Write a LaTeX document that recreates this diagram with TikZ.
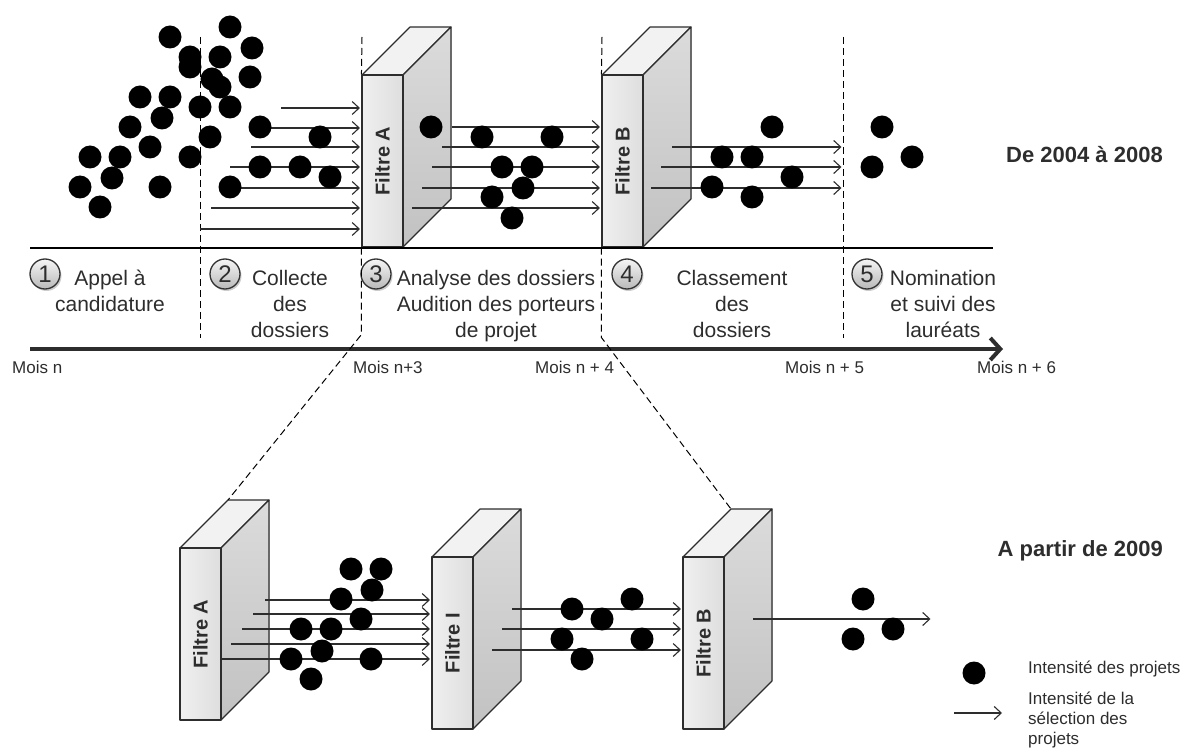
\documentclass[tikz,border=0pt]{standalone}
\usepackage{fontspec}
\setmainfont{Liberation Sans}
\usetikzlibrary{arrows.meta,shadows}
\definecolor{trait}{RGB}{45,45,45}

% boite 3D : #1 nom, #2 x, #3 y (coin haut gauche de la face), #4 texte
\newcommand{\filtre}[4]{%
  \filldraw[boite, fill=gray!10] (#2,#3) -- ++(48,-48) -- ++(41,0) -- ++(-48,48) -- cycle;
  \filldraw[boite, top color=gray!28, bottom color=gray!48] (#2+41,#3) -- ++(48,-48) -- ++(0,172) -- ++(-48,48) -- cycle;
  \node[face] (#1) at (#2+20.5,#3+86) {};
  \node[rotate=90, font=\fontsize{20}{20}\selectfont\bfseries, text=trait] at (#1) {#4};
  \coordinate (#1-coin) at (#2+48,#3-48);
}

\begin{document}
\begin{tikzpicture}[x=1pt, y=-1pt,
    boite/.style={draw=trait, line width=1.1pt, line join=round},
    face/.style={boite, minimum width=41pt, minimum height=172pt, inner sep=0pt, left color=gray!12, right color=gray!26},
    projet/.style={circle, fill=black, minimum size=23pt, inner sep=0pt},
    fleche/.style={draw=trait, line width=1.1pt, -{Straight Barb[length=7pt, width=13pt]}, shorten >=1.5pt},
    tirets/.style={draw=black, line width=1pt, dash pattern=on 7pt off 4pt},
    numero/.style={circle, draw=black!80, line width=1.3pt, minimum size=30pt, inner sep=0pt, top color=gray!8, bottom color=gray!55, drop shadow={opacity=0.4, shadow xshift=1.5pt, shadow yshift=-2pt}, font=\fontsize{24}{24}\selectfont, text=trait},
    etape/.style={align=center, anchor=north, inner sep=0pt, font=\fontsize{21}{26}\selectfont, text=trait},
    mois/.style={anchor=base west, inner sep=0pt, font=\fontsize{17}{17}\selectfont, text=trait},
    titre/.style={anchor=base east, inner sep=0pt, font=\fontsize{22}{22}\selectfont\bfseries, text=trait}]
  \useasboundingbox (0,0) rectangle (1186,751);

  % --- De 2004 a 2008 ---
  \filtre{fA}{362}{75}{Filtre A}
  \filtre{fB}{602}{75}{Filtre B}

  \draw[black, line width=1.2pt] (30,248) -- (993,248);
  \draw[tirets] (200,37) -- (200,338);
  \draw[tirets] (843,37) -- (843,338);
  \draw[tirets] (362,37) -- (fA.north west);
  \draw[tirets] (602,37) -- (fB.north west);

  \foreach \x/\y in {281/108, 262/128, 251/147, 230/167, 240/188, 211/208, 200/229}
    \draw[fleche] (\x,\y) -- (\x,\y -| fA.west);
  \foreach \x/\y in {452/127, 442/147, 432/167, 422/188, 412/208}
    \draw[fleche] (\x,\y) -- (\x,\y -| fB.west);
  \foreach \x/\y in {672/147, 661/167, 651/188}
    \draw[fleche] (\x,\y) -- (843,\y);

  \foreach \x/\y [count=\i] in {170/37, 230/27, 252/48, 190/57, 190/67, 220/57, 212/79, 220/87, 250/77, 140/97,
      170/97, 200/107, 230/107, 162/118, 130/127, 260/127, 210/137, 320/137, 150/147, 90/157, 120/157,
      190/157, 260/167, 300/167, 330/177, 112/178, 80/187, 160/187, 230/187, 100/207}
    \node[projet] (pa\i) at (\x,\y) {};
  \foreach \x/\y [count=\i] in {431/127, 482/137, 552/137, 502/167, 532/167, 523/188, 492/197, 512/218}
    \node[projet] (pb\i) at (\x,\y) {};
  \foreach \x/\y [count=\i] in {772/127, 722/157, 752/157, 792/177, 712/187, 752/197}
    \node[projet] (pc\i) at (\x,\y) {};
  \foreach \x/\y [count=\i] in {882/127, 872/167, 912/157}
    \node[projet] (pd\i) at (\x,\y) {};

  \node[titre] (t1) at (1163,163) {De 2004 à 2008};

  % --- etapes ---
  \foreach \x/\n in {45/1, 225/2, 376/3, 627/4, 867/5}
    \node[numero] (c\n) at (\x,274) {\n};
  \node[etape] (e1) at (110,270) {Appel à\\candidature};
  \node[etape] (e2) at (290,270) {Collecte\\des\\dossiers};
  \node[etape] (e3) at (496,270) {Analyse des dossiers\\Audition des porteurs\\de projet};
  \node[etape] (e4) at (732,270) {Classement\\des\\dossiers};
  \node[etape] (e5) at (943,270) {Nomination\\et suivi des\\lauréats};

  \draw[trait, line width=4pt, -{Straight Barb[length=10pt, width=22pt]}] (30,349) -- (1003,349);
  \node[mois] (m0) at (12,373) {Mois n};
  \node[mois] (m3) at (353,373) {Mois n+3};
  \node[mois] (m4) at (535,373) {Mois n + 4};
  \node[mois] (m5) at (785,373) {Mois n + 5};
  \node[mois] (m6) at (977,373) {Mois n + 6};

  % --- A partir de 2009 ---
  \filtre{bA}{180}{548}{Filtre A}
  \filtre{bI}{432}{557}{Filtre I}
  \filtre{bB}{683}{557}{Filtre B}

  \draw[tirets] (fA.south west) -- ++(0,87) -- (bA-coin);
  \draw[tirets] (fB.south west) -- ++(0,90) -- (bB-coin);

  \foreach \x/\y in {265/600, 253/614, 242/629, 231/644, 220/659}
    \draw[fleche] (\x,\y) -- (\x,\y -| bI.west);
  \foreach \x/\y in {512/609, 502/629, 492/650}
    \draw[fleche] (\x,\y) -- (\x,\y -| bB.west);
  \draw[fleche] (753,619) -- (932,619);

  \foreach \x/\y [count=\i] in {351/569, 381/569, 372/590, 341/599, 361/619, 301/629, 331/629, 322/651, 291/659, 371/659, 311/679}
    \node[projet] (qa\i) at (\x,\y) {};
  \foreach \x/\y [count=\i] in {572/609, 632/599, 602/619, 562/639, 642/639, 582/659}
    \node[projet] (qb\i) at (\x,\y) {};
  \foreach \x/\y [count=\i] in {863/599, 893/629, 853/639}
    \node[projet] (qc\i) at (\x,\y) {};

  \node[titre] (t2) at (1163,556) {A partir de 2009};

  % --- legende ---
  \node[projet] (lp) at (974,673) {};
  \node[mois, font=\fontsize{17}{20}\selectfont] (lt1) at (1028,673) {Intensité des projets};
  \coordinate (lf) at (954,713);
  \draw[fleche, shorten >=0pt] (lf) -- ++(48,0);
  \node[anchor=north west, inner sep=0pt, align=left, font=\fontsize{17}{20}\selectfont, text=trait] (lt2) at (1028,692) {Intensité de la\\sélection des\\projets};
\end{tikzpicture}
\end{document}
